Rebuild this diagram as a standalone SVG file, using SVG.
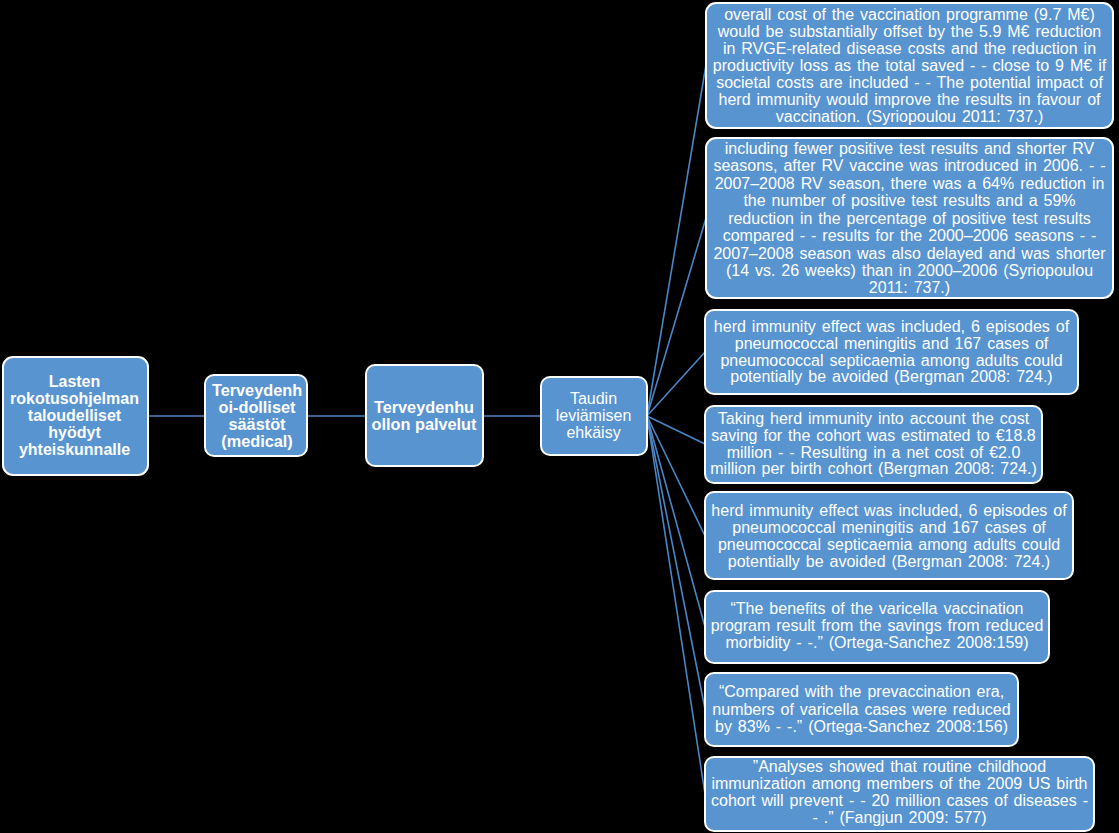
<svg xmlns="http://www.w3.org/2000/svg" width="1119" height="833" viewBox="0 0 1119 833">
<style>
.box{fill:#5894d0;stroke:#ffffff;stroke-width:2}
.t{font-family:"Liberation Sans",Arial,sans-serif;fill:#ffffff;text-anchor:middle}
.s{font-size:16px;word-spacing:1.5px}
.c{stroke:#4a86c5;stroke-width:1.6;fill:none}
</style>
<rect width="1119" height="833" fill="#000000"/>
<g id="connectors">
<line class="c" x1="148" y1="416" x2="205" y2="416"/>
<line class="c" x1="308" y1="416" x2="366" y2="416"/>
<line class="c" x1="483" y1="416" x2="541" y2="416"/>
<line class="c" x1="647" y1="416" x2="706" y2="65"/>
<line class="c" x1="647" y1="416" x2="706" y2="218"/>
<line class="c" x1="647" y1="416" x2="705" y2="352"/>
<line class="c" x1="647" y1="416" x2="705" y2="444"/>
<line class="c" x1="647" y1="416" x2="705" y2="536"/>
<line class="c" x1="647" y1="416" x2="705" y2="627"/>
<line class="c" x1="647" y1="416" x2="705" y2="709"/>
<line class="c" x1="647" y1="416" x2="705" y2="794"/>
</g>
<g id="nodeA">
<rect class="box" x="3" y="357" width="145" height="118" rx="10"/>
<text class="t" font-weight="bold" font-size="16"><tspan x="74.5" y="387">Lasten</tspan><tspan x="74.5" y="404">rokotusohjelman</tspan><tspan x="74.5" y="421">taloudelliset</tspan><tspan x="74.5" y="438">hyödyt</tspan><tspan x="74.5" y="455">yhteiskunnalle</tspan></text>
</g>
<g id="nodeB">
<rect class="box" x="205" y="375" width="102" height="81" rx="9"/>
<text class="t" font-weight="bold" font-size="16.3"><tspan x="257" y="396">Terveydenh</tspan><tspan x="257" y="413">oi-dolliset</tspan><tspan x="257" y="430">säästöt</tspan><tspan x="257" y="447">(medical)</tspan></text>
</g>
<g id="nodeC">
<rect class="box" x="366" y="365" width="117" height="101" rx="9"/>
<text class="t" font-weight="bold" font-size="16.3"><tspan x="424" y="413">Terveydenhu</tspan><tspan x="424" y="430">ollon palvelut</tspan></text>
</g>
<g id="nodeD">
<rect class="box" x="541" y="377" width="106" height="78" rx="9"/>
<text class="t" font-size="16"><tspan x="593.5" y="404">Taudin</tspan><tspan x="593.5" y="421">leviämisen</tspan><tspan x="593.5" y="438">ehkäisy</tspan></text>
</g>
<g id="node1">
<rect class="box" x="706" y="3" width="407" height="125" rx="10"/>
<text class="t s"><tspan x="909.5" y="19.5">overall cost of the vaccination programme (9.7 M€)</tspan><tspan x="909.5" y="36.5">would be substantially offset by the 5.9 M€ reduction</tspan><tspan x="909.5" y="53.6">in RVGE-related disease costs and the reduction in</tspan><tspan x="909.5" y="70.6">productivity loss as the total saved - - close to 9 M€ if</tspan><tspan x="909.5" y="87.7">societal costs are included - - The potential impact of</tspan><tspan x="909.5" y="104.7">herd immunity would improve the results in favour of</tspan><tspan x="909.5" y="121.8">vaccination. (Syriopoulou 2011: 737.)</tspan></text>
</g>
<g id="node2">
<rect class="box" x="706" y="138" width="407" height="160" rx="10"/>
<text class="t s"><tspan x="909.5" y="154">including fewer positive test results and shorter RV</tspan><tspan x="909.5" y="171.4">seasons, after RV vaccine was introduced in 2006. - -</tspan><tspan x="909.5" y="188.8">2007–2008 RV season, there was a 64% reduction in</tspan><tspan x="909.5" y="206.3">the number of positive test results and a 59%</tspan><tspan x="909.5" y="223.7">reduction in the percentage of positive test results</tspan><tspan x="909.5" y="241.1">compared - - results for the 2000–2006 seasons - -</tspan><tspan x="909.5" y="258.5">2007–2008 season was also delayed and was shorter</tspan><tspan x="909.5" y="275.9">(14 vs. 26 weeks) than in 2000–2006 (Syriopoulou</tspan><tspan x="909.5" y="293.3">2011: 737.)</tspan></text>
</g>
<g id="node3">
<rect class="box" x="705" y="310" width="373" height="84" rx="9"/>
<text class="t s"><tspan x="891.5" y="331.7">herd immunity effect was included, 6 episodes of</tspan><tspan x="891.5" y="348.6">pneumococcal meningitis and 167 cases of</tspan><tspan x="891.5" y="365.5">pneumococcal septicaemia among adults could</tspan><tspan x="891.5" y="382.4">potentially be avoided (Bergman 2008: 724.)</tspan></text>
</g>
<g id="node4">
<rect class="box" x="705" y="406" width="337" height="77" rx="9"/>
<text class="t s"><tspan x="873.5" y="424">Taking herd immunity into account the cost</tspan><tspan x="873.5" y="440.8">saving for the cohort was estimated to €18.8</tspan><tspan x="873.5" y="457.6">million - - Resulting in a net cost of €2.0</tspan><tspan x="873.5" y="474.4">million per birth cohort (Bergman 2008: 724.)</tspan></text>
</g>
<g id="node5">
<rect class="box" x="705" y="492" width="368" height="87" rx="9"/>
<text class="t s"><tspan x="889" y="515.7">herd immunity effect was included, 6 episodes of</tspan><tspan x="889" y="532.7">pneumococcal meningitis and 167 cases of</tspan><tspan x="889" y="549.7">pneumococcal septicaemia among adults could</tspan><tspan x="889" y="566.7">potentially be avoided (Bergman 2008: 724.)</tspan></text>
</g>
<g id="node6">
<rect class="box" x="705" y="591" width="344" height="72" rx="9"/>
<text class="t s"><tspan x="877" y="614.3">“The benefits of the varicella vaccination</tspan><tspan x="877" y="631.3">program result from the savings from reduced</tspan><tspan x="877" y="648.3">morbidity - -.” (Ortega-Sanchez 2008:159)</tspan></text>
</g>
<g id="node7">
<rect class="box" x="705" y="673" width="313" height="73" rx="9"/>
<text class="t s"><tspan x="861.5" y="697.3">“Compared with the prevaccination era,</tspan><tspan x="861.5" y="714.5">numbers of varicella cases were reduced</tspan><tspan x="861.5" y="731.7">by 83% - -.” (Ortega-Sanchez 2008:156)</tspan></text>
</g>
<g id="node8">
<rect class="box" x="705" y="757" width="389" height="74" rx="9"/>
<text class="t s"><tspan x="899.5" y="772.3">”Analyses showed that routine childhood</tspan><tspan x="899.5" y="789.3">immunization among members of the 2009 US birth</tspan><tspan x="899.5" y="806.3">cohort will prevent - - 20 million cases of diseases -</tspan><tspan x="899.5" y="823.3">- .” (Fangjun 2009: 577)</tspan></text>
</g>
</svg>
